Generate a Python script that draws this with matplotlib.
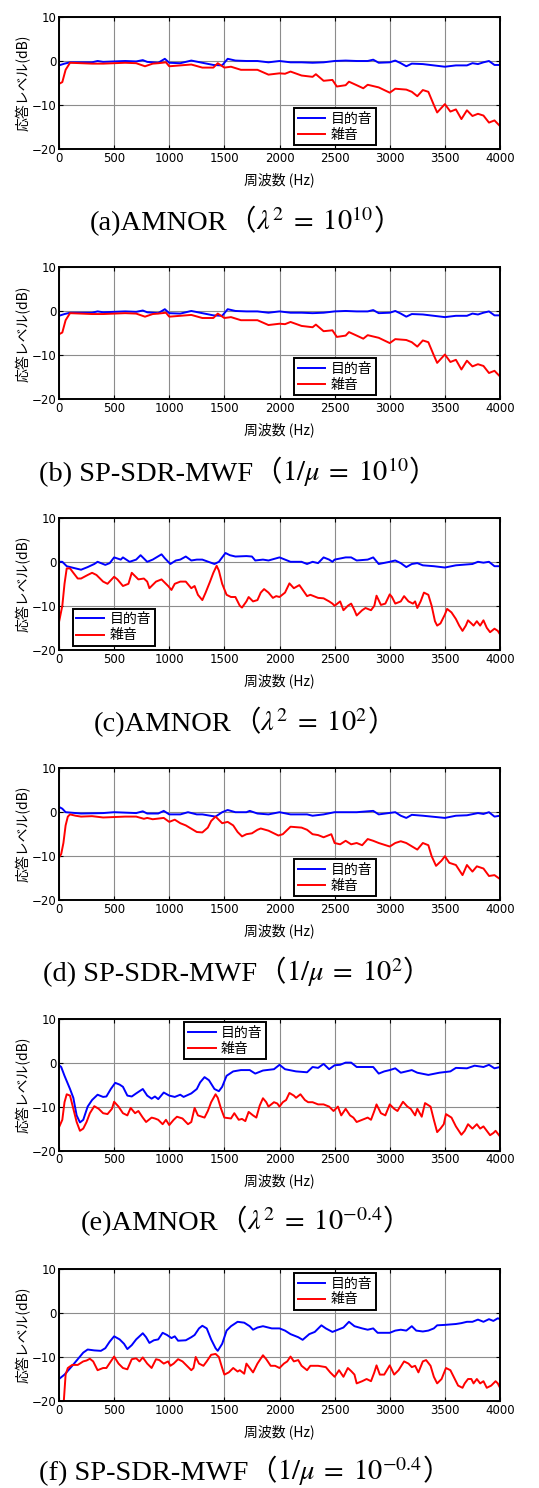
import numpy as np
import matplotlib
matplotlib.use('Agg')
import matplotlib.pyplot as plt
from matplotlib.offsetbox import TextArea, HPacker, AnnotationBbox

plt.rcParams['mathtext.fontset'] = 'stix'
plt.rcParams['axes.unicode_minus'] = True

JP = ['Noto Sans CJK JP', 'DejaVu Sans']
SERIF = ['Liberation Serif', 'Noto Sans CJK JP']

# ---- (a) AMNOR lambda^2 = 1e10 ----
a_target_f = [0, 50, 100, 200, 300, 350, 400, 500, 600, 700, 760, 800, 900, 960, 1000, 1100, 1200, 1300, 1400, 1480,
              1530, 1600, 1700, 1800, 1900, 2000, 2100, 2200, 2300, 2400, 2500, 2600, 2700, 2800, 2850, 2900, 3000, 3050,
              3100, 3150, 3200, 3300, 3400, 3500, 3600, 3700, 3750, 3800, 3850, 3900, 3950, 4000]
a_target_db = [-1.0, -0.6, -0.3, -0.3, -0.3, 0.0, -0.2, -0.1, 0.0, -0.1, 0.2, -0.2, -0.4, 0.5, -0.4, -0.5, 0.1, -0.4, -0.9, -1.0,
               0.5, 0.1, 0.0, 0.0, -0.3, 0.0, -0.3, -0.3, -0.4, -0.3, 0.0, 0.1, 0.0, 0.0, 0.3, -0.4, -0.3, 0.1,
               -0.5, -1.2, -0.6, -0.7, -1.0, -1.3, -1.0, -1.0, -0.5, -0.7, -0.3, 0.0, -0.9, -0.9]
a_noise_f = [0, 30, 60, 100, 200, 300, 400, 500, 600, 700, 780, 850, 900, 970, 1000, 1100, 1200, 1300, 1400, 1440,
             1500, 1560, 1650, 1750, 1800, 1900, 2000, 2050, 2100, 2200, 2300, 2330, 2400, 2480, 2520, 2600, 2630, 2700,
             2760, 2800, 2900, 3000, 3050, 3150, 3200, 3250, 3300, 3350, 3400, 3430, 3500, 3550, 3600, 3650, 3700, 3750,
             3800, 3850, 3900, 3950, 4000]
a_noise_db = [-5.2, -4.8, -2.0, -0.4, -0.5, -0.6, -0.6, -0.5, -0.4, -0.5, -1.2, -0.6, -0.5, -0.3, -1.2, -1.0, -0.8, -1.5, -1.5, -0.5,
              -1.5, -1.3, -2.0, -2.0, -2.0, -3.1, -2.8, -2.9, -2.4, -3.3, -3.6, -3.0, -4.5, -4.3, -5.8, -5.5, -4.7, -5.5,
              -6.2, -5.4, -6.0, -7.2, -6.3, -6.5, -7.0, -8.0, -6.6, -7.0, -10.0, -11.7, -9.8, -11.5, -11.0, -13.2, -11.2, -12.5,
              -12.0, -12.4, -14.0, -13.5, -14.8]

# ---- (b) SP-SDR-MWF 1/mu = 1e10 (same response as (a)) ----
b_target_f, b_target_db = a_target_f, a_target_db
b_noise_f, b_noise_db = a_noise_f, a_noise_db

# ---- (c) AMNOR lambda^2 = 1e2 ----
c_target_f = [0, 30, 70, 150, 200, 260, 320, 350, 420, 460, 500, 560, 580, 640, 700, 740, 800, 850, 930, 960,
              1010, 1060, 1100, 1150, 1200, 1250, 1300, 1410, 1450, 1510, 1550, 1600, 1700, 1750, 1780, 1850, 1900, 2000,
              2100, 2200, 2250, 2300, 2350, 2400, 2450, 2480, 2500, 2600, 2650, 2700, 2800, 2850, 2900, 3000, 3050, 3100,
              3150, 3200, 3250, 3300, 3400, 3500, 3600, 3700, 3750, 3800, 3850, 3900, 3950, 4000]
c_target_db = [0.0, 0.0, -1.0, -1.5, -1.8, -1.2, -0.5, 0.0, -0.7, -0.3, 1.0, 0.5, 1.0, 0.0, 0.5, 1.5, 0.0, 0.5, 1.7, 0.8,
               -0.5, 0.3, 0.5, 1.2, 0.3, 0.5, 0.5, -0.5, 0.0, 2.0, 1.5, 1.2, 1.3, 1.2, 0.3, 0.5, 0.3, 1.0,
               0.0, 0.0, -0.5, 0.0, -0.3, 1.0, 0.5, 0.0, 0.5, 1.0, 1.0, 0.3, 0.5, 1.0, -0.5, 0.0, 0.3, -0.3,
               -1.2, -0.5, -0.3, -0.8, -1.0, -1.3, -0.8, -0.6, -0.5, 0.0, -0.2, 0.0, -1.0, -1.0]
c_noise_f = [0, 30, 50, 70, 100, 130, 170, 200, 260, 300, 340, 400, 440, 500, 530, 580, 630, 660, 720, 770,
             800, 820, 880, 930, 970, 990, 1020, 1050, 1100, 1150, 1200, 1230, 1260, 1300, 1330, 1370, 1400, 1430, 1450, 1480,
             1520, 1560, 1600, 1640, 1660, 1700, 1720, 1760, 1800, 1830, 1860, 1900, 1940, 1970, 2000, 2050, 2090, 2130,
             2180, 2200, 2250, 2280, 2350, 2400, 2450, 2480, 2500, 2550, 2580, 2620, 2650, 2680, 2700, 2750, 2780, 2830,
             2860, 2880, 2920, 2960, 3000, 3020, 3050, 3100, 3130, 3170, 3210, 3230, 3250, 3280, 3310, 3350, 3380, 3410,
             3430, 3460, 3500, 3520, 3560, 3600, 3630, 3660, 3690, 3710, 3740, 3760, 3790, 3820, 3850, 3880, 3910, 3950,
             3980, 4000]
c_noise_db = [-13.7, -10.0, -5.0, -1.5, -1.5, -2.5, -3.8, -3.8, -3.0, -2.5, -3.0, -4.5, -5.0, -3.4, -4.0, -5.5, -5.0, -2.5, -4.0, -3.8,
              -4.5, -6.0, -4.5, -4.0, -5.0, -5.5, -6.4, -5.0, -4.5, -4.5, -6.0, -5.5, -7.5, -8.7, -7.0, -4.5, -2.5, -0.9, -2.0, -5.0,
              -7.5, -8.0, -8.0, -10.0, -10.4, -9.0, -8.0, -9.0, -8.7, -7.0, -6.2, -7.0, -8.2, -7.8, -8.0, -7.0, -4.9, -6.0,
              -5.3, -6.0, -7.8, -7.5, -8.2, -8.3, -9.0, -9.5, -10.0, -9.0, -11.0, -10.0, -9.5, -11.0, -12.2, -11.0, -10.5, -11.0,
              -10.0, -7.7, -9.8, -9.5, -7.4, -8.0, -9.5, -9.0, -7.8, -9.0, -9.5, -9.0, -10.5, -9.0, -7.0, -7.5, -10.0, -13.5,
              -14.5, -14.0, -12.0, -10.7, -11.5, -13.0, -14.5, -15.7, -14.5, -13.3, -14.0, -14.5, -13.5, -14.5, -13.3, -15.0, -16.0, -15.2,
              -15.7, -16.5]

# ---- (d) SP-SDR-MWF 1/mu = 1e2 ----
d_target_f = [0, 30, 60, 200, 400, 500, 700, 760, 800, 900, 950, 1000, 1100, 1170, 1250, 1300, 1420, 1480, 1530, 1600,
              1700, 1730, 1800, 1900, 2000, 2100, 2250, 2300, 2400, 2500, 2700, 2850, 2900, 3050, 3100, 3150, 3200, 3300,
              3500, 3600, 3700, 3800, 3850, 3900, 3950, 4000]
d_target_db = [1.2, 0.8, 0.0, -0.3, -0.2, 0.0, -0.2, 0.2, -0.3, -0.3, 0.3, -0.5, -0.5, 0.0, -0.5, -0.5, -1.0, 0.0, 0.5, 0.0,
               0.0, 0.3, -0.3, -0.5, 0.0, -0.5, -0.5, -0.8, -0.5, 0.0, 0.0, 0.3, -0.5, 0.0, -0.8, -1.3, -0.6, -0.8,
               -1.3, -0.8, -0.7, -0.2, -0.4, 0.0, -1.0, -0.8]
d_noise_f = [0, 20, 40, 60, 80, 100, 150, 200, 300, 400, 500, 600, 700, 770, 800, 850, 950, 1000, 1050, 1100,
             1150, 1250, 1300, 1350, 1380, 1420, 1480, 1530, 1580, 1620, 1660, 1700, 1750, 1800, 1830, 1900, 1990, 2030,
             2100, 2200, 2250, 2300, 2350, 2400, 2470, 2500, 2550, 2600, 2650, 2700, 2750, 2800, 2850, 2900, 3000, 3050,
             3100, 3150, 3250, 3300, 3350, 3380, 3420, 3470, 3500, 3540, 3600, 3660, 3700, 3750, 3790, 3850, 3900, 3950,
             4000]
d_noise_db = [-10.3, -9.5, -7.0, -3.0, -1.0, -0.5, -0.8, -1.0, -0.9, -1.2, -1.1, -1.0, -1.0, -1.5, -1.3, -1.6, -1.3, -2.2, -1.7, -2.5,
              -3.0, -4.5, -4.6, -3.5, -2.0, -1.0, -2.5, -2.2, -3.0, -4.5, -5.5, -5.0, -4.8, -4.0, -3.7, -4.2, -5.3, -5.0,
              -3.3, -3.5, -4.0, -5.0, -5.2, -5.7, -5.0, -7.0, -7.3, -6.5, -7.3, -7.0, -7.5, -6.1, -6.5, -7.0, -7.8, -7.0,
              -6.6, -7.0, -8.5, -7.0, -7.5, -10.0, -12.2, -11.0, -10.0, -11.5, -12.0, -14.3, -12.0, -13.5, -12.3, -12.8, -14.5, -14.3,
              -15.2]

# ---- (e) AMNOR lambda^2 = 10^-0.4 ----
e_target_f = [0, 20, 50, 100, 130, 160, 190, 220, 260, 300, 350, 400, 430, 470, 510, 550, 580, 620, 660, 700,
              760, 800, 840, 870, 900, 950, 1000, 1050, 1100, 1130, 1200, 1250, 1280, 1320, 1360, 1410, 1450, 1480, 1520, 1580,
              1650, 1730, 1780, 1850, 1950, 2000, 2050, 2150, 2250, 2300, 2350, 2400, 2450, 2500, 2550, 2600, 2650, 2700,
              2800, 2850, 2900, 2950, 3000, 3050, 3100, 3200, 3250, 3350, 3450, 3550, 3600, 3700, 3770, 3850, 3900, 3950,
              4000]
e_target_db = [-0.6, -1.0, -3.0, -6.0, -8.0, -12.0, -13.6, -13.0, -10.0, -8.5, -7.3, -7.8, -7.7, -6.0, -4.6, -5.0, -5.5, -7.5, -7.7, -7.0,
               -6.0, -7.5, -8.2, -7.7, -8.3, -6.8, -7.5, -7.8, -7.3, -7.8, -7.0, -6.0, -4.5, -3.3, -4.0, -6.0, -6.5, -5.5, -3.0, -2.0,
               -1.7, -1.7, -2.5, -1.8, -1.5, -0.5, -1.5, -2.0, -2.2, -1.0, -1.2, -0.3, -1.5, -0.6, -0.5, 0.0, 0.0, -1.0,
               -1.0, -1.0, -2.5, -2.0, -1.7, -1.3, -2.3, -1.7, -2.3, -2.8, -2.3, -2.0, -1.2, -1.3, -0.7, -1.0, -0.5, -1.3,
               -1.0]
e_noise_f = [0, 30, 50, 70, 100, 130, 160, 190, 220, 250, 280, 320, 360, 400, 440, 480, 500, 540, 580, 620,
             650, 690, 720, 760, 790, 840, 870, 900, 940, 970, 1000, 1040, 1070, 1120, 1170, 1200, 1230, 1260, 1320, 1350,
             1380, 1420, 1440, 1470, 1500, 1560, 1590, 1630, 1660, 1690, 1720, 1760, 1790, 1820, 1850, 1880, 1900, 1950,
             1980, 2000, 2030, 2060, 2090, 2130, 2150, 2190, 2230, 2260, 2300, 2350, 2400, 2450, 2490, 2530, 2560, 2600,
             2640, 2670, 2700, 2750, 2800, 2830, 2860, 2880, 2920, 2960, 3000, 3040, 3070, 3120, 3160, 3190, 3230, 3250,
             3290, 3320, 3370, 3400, 3430, 3460, 3490, 3510, 3560, 3600, 3650, 3680, 3710, 3750, 3790, 3820, 3850, 3880,
             3910, 3940, 3960, 4000]
e_noise_db = [-14.7, -13.0, -9.0, -7.2, -7.5, -10.5, -13.5, -15.5, -15.0, -13.5, -11.5, -9.9, -10.5, -11.5, -11.7, -10.5, -8.9, -10.0, -11.5, -12.0,
              -10.3, -11.5, -11.0, -12.5, -13.5, -12.5, -12.7, -13.0, -14.0, -13.0, -14.2, -13.0, -12.3, -12.7, -14.0, -13.5, -10.3, -12.0, -12.5, -11.0,
              -9.0, -7.2, -8.0, -10.5, -12.5, -12.7, -11.5, -13.0, -12.8, -13.3, -11.2, -12.0, -12.5, -9.8, -8.1, -9.0, -10.0, -9.0,
              -9.3, -10.0, -9.0, -8.5, -6.9, -7.5, -8.0, -7.2, -8.5, -9.0, -9.0, -9.5, -9.5, -10.0, -11.0, -10.0, -12.0, -10.5,
              -12.0, -12.5, -13.5, -13.0, -12.5, -13.0, -11.0, -9.5, -11.5, -12.0, -9.5, -10.5, -11.0, -8.9, -10.0, -10.5, -12.0, -10.5,
              -12.3, -9.2, -10.0, -13.0, -15.8, -15.0, -14.0, -11.7, -12.5, -14.5, -16.4, -15.5, -14.0, -15.0, -14.0, -15.0, -14.5, -15.5,
              -16.5, -16.0, -15.5, -16.8]

# ---- (f) SP-SDR-MWF 1/mu = 10^-0.4 ----
f_target_f = [0, 50, 120, 170, 220, 260, 320, 380, 420, 460, 500, 550, 590, 620, 660, 700, 760, 790, 820, 860,
              900, 940, 980, 1020, 1050, 1080, 1150, 1200, 1230, 1270, 1300, 1340, 1380, 1420, 1440, 1480, 1520, 1560, 1620, 1680,
              1730, 1760, 1800, 1850, 1930, 2000, 2050, 2100, 2170, 2210, 2270, 2320, 2380, 2420, 2480, 2530, 2580, 2630,
              2680, 2750, 2800, 2850, 2890, 2950, 3000, 3050, 3100, 3150, 3200, 3240, 3300, 3350, 3400, 3430, 3500, 3600,
              3650, 3700, 3750, 3800, 3850, 3900, 3940, 3980, 4000]
f_target_db = [-15.0, -14.0, -12.0, -10.5, -9.0, -8.3, -8.5, -8.6, -8.0, -6.5, -5.3, -6.0, -7.0, -8.2, -7.3, -6.0, -4.6, -5.5, -6.8, -6.2,
               -6.0, -4.5, -5.0, -5.7, -5.3, -6.3, -6.2, -5.5, -5.0, -3.5, -2.9, -3.5, -6.0, -8.0, -8.6, -7.0, -4.0, -3.0, -2.0, -2.2,
               -3.0, -3.8, -3.3, -3.0, -3.5, -3.5, -4.0, -4.8, -5.5, -6.1, -4.8, -4.3, -2.8, -3.5, -4.3, -3.8, -3.3, -2.0,
               -3.0, -3.5, -3.8, -3.5, -4.5, -4.5, -4.5, -4.0, -3.8, -4.0, -3.0, -4.0, -4.2, -4.0, -3.5, -2.8, -2.7, -2.5,
               -2.3, -2.0, -2.0, -1.5, -2.0, -1.4, -1.8, -1.2, -1.4]
f_noise_f = [0, 30, 60, 80, 120, 170, 220, 250, 280, 310, 350, 400, 430, 470, 500, 540, 580, 620, 660, 700,
             730, 760, 800, 840, 880, 910, 950, 990, 1010, 1040, 1080, 1120, 1160, 1200, 1220, 1240, 1270, 1310, 1340, 1380,
             1420, 1450, 1480, 1500, 1540, 1580, 1620, 1640, 1680, 1700, 1730, 1760, 1800, 1850, 1880, 1920, 1960, 2000,
             2040, 2070, 2100, 2130, 2170, 2200, 2250, 2280, 2350, 2420, 2460, 2500, 2540, 2580, 2620, 2650, 2680, 2700,
             2750, 2790, 2830, 2860, 2880, 2910, 2950, 3000, 3040, 3080, 3130, 3170, 3200, 3230, 3260, 3300, 3330, 3370,
             3400, 3430, 3470, 3510, 3550, 3580, 3620, 3660, 3680, 3710, 3740, 3760, 3790, 3820, 3850, 3880, 3920, 3960,
             3980, 4000]
f_noise_db = [-35.0, -25.0, -14.0, -12.5, -11.8, -11.8, -11.0, -10.8, -10.4, -11.0, -13.0, -12.5, -12.5, -11.0, -9.9, -11.5, -12.5, -12.8, -10.5, -10.3,
              -11.0, -10.1, -11.5, -12.5, -10.5, -10.7, -11.5, -11.0, -12.0, -11.5, -10.5, -11.0, -12.0, -13.0, -12.5, -10.0, -11.5, -12.0, -11.0, -9.5,
              -9.3, -10.0, -12.5, -14.0, -13.5, -12.5, -13.3, -13.0, -13.8, -11.5, -12.5, -13.5, -11.5, -9.6, -10.5, -12.0, -12.0, -12.5,
              -11.5, -11.0, -9.9, -11.0, -10.7, -12.0, -13.0, -12.0, -12.0, -12.3, -13.5, -14.5, -13.0, -14.5, -12.5, -13.2, -14.0, -16.0,
              -15.5, -15.0, -15.5, -13.5, -11.9, -14.0, -14.0, -11.9, -14.0, -13.0, -11.0, -11.5, -12.3, -12.0, -13.5, -11.0, -10.7, -12.0,
              -14.5, -16.0, -15.0, -12.5, -13.0, -14.5, -16.5, -17.0, -16.0, -15.0, -15.0, -16.0, -15.0, -16.0, -15.5, -17.0, -16.5, -15.5,
              -16.0, -17.0]

labels = ['目的音', '雑音']
x_ticks = [0, 500, 1000, 1500, 2000, 2500, 3000, 3500, 4000]
y_ticks = [10, 0, -10, -20]

captions = [
    [('(a)AMNOR', SERIF), ('（', JP), (r'$\lambda^2\;=\;10^{10}$', None), ('）', JP)],
    [('(b) SP-SDR-MWF', SERIF), ('（', JP), (r'$1/\mu\;=\;10^{10}$', None), ('）', JP)],
    [('(c)AMNOR', SERIF), ('（', JP), (r'$\lambda^2\;=\;10^{2}$', None), ('）', JP)],
    [('(d) SP-SDR-MWF', SERIF), ('（', JP), (r'$1/\mu\;=\;10^{2}$', None), ('）', JP)],
    [('(e)AMNOR', SERIF), ('（', JP), (r'$\lambda^2\;=\;10^{-0.4}$', None), ('）', JP)],
    [('(f) SP-SDR-MWF', SERIF), ('（', JP), (r'$1/\mu\;=\;10^{-0.4}$', None), ('）', JP)],
]

panels = [
    (a_target_f, a_target_db, a_noise_f, a_noise_db, (0.626, 0.17)),
    (b_target_f, b_target_db, b_noise_f, b_noise_db, (0.626, 0.17)),
    (c_target_f, c_target_db, c_noise_f, c_noise_db, (0.124, 0.17)),
    (d_target_f, d_target_db, d_noise_f, d_noise_db, (0.626, 0.17)),
    (e_target_f, e_target_db, e_noise_f, e_noise_db, (0.377, 0.833)),
    (f_target_f, f_target_db, f_noise_f, f_noise_db, (0.626, 0.83)),
]
cap_pos = [(246, 222), (238, 472), (245, 723), (237, 973), (246, 1222), (245, 1472)]

W, H = 539, 1488
fig = plt.figure(figsize=(W / 100, H / 100), dpi=100, facecolor='white')

for k, (tf, tdb, nf, ndb, leg_pos) in enumerate(panels):
    top = 17 + 250.4 * k
    ax = fig.add_axes([59 / W, 1 - (top + 132) / H, 441 / W, 132 / H])
    ax.plot(tf, tdb, color='#0000ff', lw=1.4, label=labels[0])
    ax.plot(nf, ndb, color='#ff0000', lw=1.4, label=labels[1])
    ax.set_xlim(0, 4000)
    ax.set_ylim(-20, 10)
    ax.set_xticks(x_ticks)
    ax.set_yticks(y_ticks)
    ax.grid(True, color='#8c8c8c', lw=0.8)
    ax.set_axisbelow(True)
    ax.tick_params(direction='in', length=3, width=0.8, labelsize=8.5, top=True, right=True, pad=2)
    for s in ax.spines.values():
        s.set_linewidth(1.4)
    ax.set_xlabel('周波数 (Hz)', family=JP, fontsize=10)
    ax.xaxis.set_label_coords(0.5, -0.175)
    ax.set_ylabel('応答レベル(dB)', family=JP, fontsize=10)
    ax.yaxis.set_label_coords(-0.064, 0.5)
    leg = ax.legend(loc='center', bbox_to_anchor=leg_pos, prop={'family': JP, 'size': 10},
                    fancybox=False, framealpha=1, edgecolor='black', borderpad=0.25,
                    labelspacing=0.15, handlelength=2.0, handletextpad=0.4, borderaxespad=0)
    leg.get_frame().set_linewidth(1.4)

for parts, (cx, cy) in zip(captions, cap_pos):
    boxes = []
    for s, fam in parts:
        props = dict(fontsize=20.5, color='black')
        if fam is not None:
            props['family'] = fam
        boxes.append(TextArea(s, textprops=props))
    pack = HPacker(children=boxes, align='baseline', pad=0, sep=0)
    ab = AnnotationBbox(pack, (cx / W, 1 - cy / H), xycoords='figure fraction',
                        frameon=False, box_alignment=(0.5, 0.5))
    fig.add_artist(ab)

fig.savefig('out.png', dpi=100, facecolor='white')
